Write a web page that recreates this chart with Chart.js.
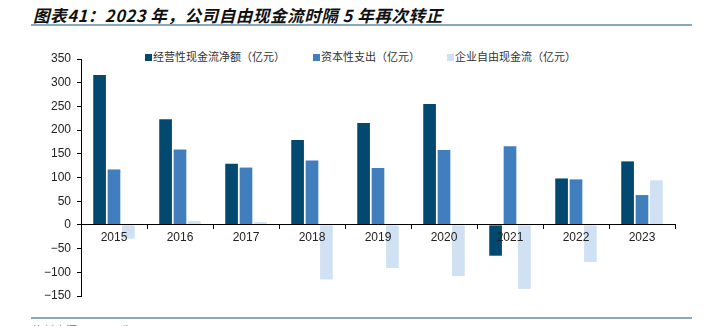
<!DOCTYPE html>
<html>
<head>
<meta charset="utf-8">
<script src="https://cdn.jsdelivr.net/npm/chart.js@4"></script>
<style>
  html, body { margin: 0; padding: 0; background: #fff; }
  #wrap { position: relative; width: 703px; height: 326px; overflow: hidden; }
  #title {
    position: absolute; left: 33px; top: 3px; letter-spacing: 0.5px;
    font: italic bold 16.6px "Noto Sans CJK SC", sans-serif; color: #111; white-space: nowrap;
  }
  .rule { position: absolute; left: 31px; width: 661px; height: 2px; background: #8aa8bb; }
  .leg {
    position: absolute; top: 48px; font: 11px "Noto Sans CJK SC", sans-serif; color: #333;
    white-space: nowrap; line-height: 16px;
  }
  .leg i { display: inline-block; width: 7px; height: 7px; margin-right: 1px; vertical-align: 0px; }
  #src { position: absolute; left: 33px; top: 322px; font: 11px "Noto Sans CJK SC", sans-serif; color: #666; white-space: nowrap; }
  canvas { position: absolute; left: 0; top: 0; }
</style>
</head>
<body>
<div id="wrap">
  <div id="title">图表41：2023 年，公司自由现金流时隔 5 年再次转正</div>
  <div class="rule" style="top:24px"></div>
  <div class="leg" style="left:145px"><i style="background:#03496f"></i>经营性现金流净额（亿元）</div>
  <div class="leg" style="left:313px"><i style="background:#417ebd"></i>资本性支出（亿元）</div>
  <div class="leg" style="left:447px"><i style="background:#cfe1f2"></i>企业自由现金流（亿元）</div>
  <canvas id="c" width="703" height="326"></canvas>
  <div class="rule" style="top:317px"></div>
  <div id="src">资料来源：公司公告，Wind</div>
</div>
<script>
// years on the x axis
const years = ["2015", "2016", "2017", "2018", "2019", "2020", "2021", "2022", "2023"];
// values (亿元)
const operatingCF = [316, 223, 129, 179, 215, 255, -65, 98, 134];
const capex       = [117, 159, 121, 136, 120, 158, 166, 96, 63];
const freeCF      = [-29, 8, 6, -115, -91, -108, -135, -78, 94];
// y tick range
const yMin = -150, yMax = 350, yStep = 50;

const colDark = "#03496f";
const colMid = "#417ebd";
const colLight = "#cfe1f2";

new Chart(document.getElementById("c"), {
  type: "bar",
  data: {
    labels: years,
    datasets: [
      { label: "经营性现金流净额（亿元）", data: operatingCF, backgroundColor: colDark },
      { label: "资本性支出（亿元）", data: capex, backgroundColor: colMid },
      { label: "企业自由现金流（亿元）", data: freeCF, backgroundColor: colLight }
    ]
  },
  options: {
    responsive: false,
    animation: false,
    layout: { padding: { top: 59, right: 28, bottom: 30, left: 0 } },
    datasets: { bar: { categoryPercentage: 0.655, barPercentage: 0.88 } },
    plugins: { legend: { display: false }, tooltip: { enabled: false } },
    scales: {
      x: {
        position: { y: 0 },
        grid: { offset: true, drawOnChartArea: false, drawTicks: true, tickLength: 4, color: "#000", z: 1 },
        border: { color: "#000", width: 1, z: 1 },
        // year labels sit on top of the negative bars
        ticks: { z: 1, padding: 2, color: "#222", font: { family: "Liberation Sans, Arial", size: 12 } }
      },
      y: {
        min: yMin, max: yMax,
        afterFit: (s) => { s.width = 81; },
        grid: { drawOnChartArea: false, drawTicks: true, tickLength: 4, color: "#000" },
        border: { color: "#000", width: 1 },
        ticks: {
          stepSize: yStep, padding: 6, color: "#222",
          font: { family: "Liberation Sans, Arial", size: 12 },
          callback: (v) => (v < 0 ? "\u2212" + Math.abs(v) : String(v))
        }
      }
    }
  }
});
</script>
</body>
</html>
